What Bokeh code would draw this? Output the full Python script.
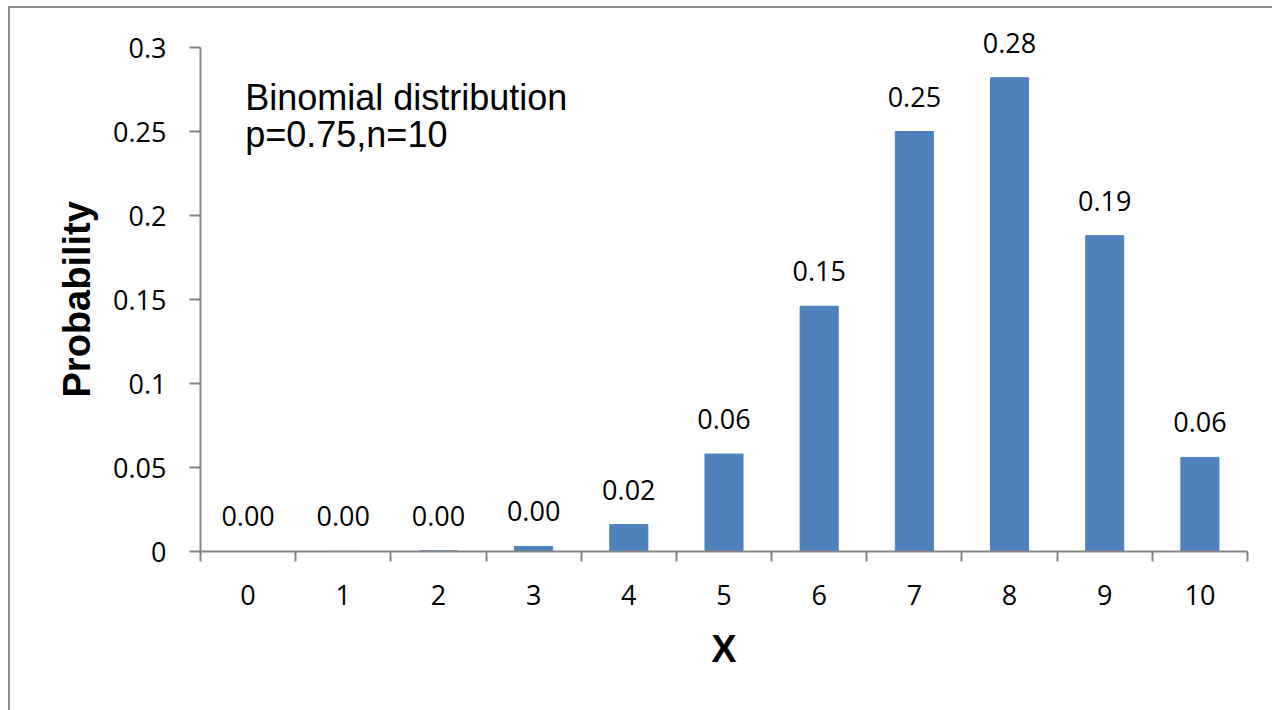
from bokeh.plotting import figure
from bokeh.models import Range1d, FixedTicker, LabelSet, Label, Title, ColumnDataSource
from bokeh.core.properties import value
from bokeh.embed import file_html
from bokeh.resources import INLINE

# ---- data ----
x_values = [0, 1, 2, 3, 4, 5, 6, 7, 8, 9, 10]
x_labels = ["0", "1", "2", "3", "4", "5", "6", "7", "8", "9", "10"]
probabilities = [0.000001, 0.00003, 0.0004, 0.003, 0.016, 0.058, 0.146, 0.250, 0.282, 0.188, 0.056]
y_ticks = [0, 0.05, 0.1, 0.15, 0.2, 0.25, 0.3]
y_tick_labels = ["0", "0.05", "0.1", "0.15", "0.2", "0.25", "0.3"]
note_lines = ["Binomial distribution", "p=0.75,n=10"]
x_title = "X"
y_title = "Probability"

BAR = "#4F81BD"
AXIS = "#868686"
TICK_FONT = "Open Sans"
TITLE_FONT = "Liberation Sans"

src = ColumnDataSource(dict(
    x=x_values,
    top=probabilities,
    label=[f"{v:.2f}" for v in probabilities],
))

# layout: value axis (0..0.3) spans 504 px; frame extends 37 px above it
AXIS_PX = 504
EXTRA_TOP_PX = 37
FRAME_H = AXIS_PX + EXTRA_TOP_PX
y_top = y_ticks[-1] * FRAME_H / AXIS_PX

p = figure(
    frame_width=1047, frame_height=FRAME_H,
    x_range=Range1d(x_values[0] - 0.5, x_values[-1] + 0.5),
    y_range=Range1d(y_ticks[0], y_top),
    output_backend="svg", toolbar_location=None,
    min_border_left=190, min_border_right=25, min_border_top=2, min_border_bottom=159,
)
p.styles = {
    "margin-left": "8px", "margin-top": "6px",
    "border-left": "2px solid #8c8c8c", "border-top": "2px solid #8c8c8c",
}
p.outline_line_color = None
p.xgrid.visible = False
p.ygrid.visible = False
p.background_fill_color = "white"
p.border_fill_color = "white"

# bars
p.vbar(x="x", top="top", width=0.4, source=src, fill_color=BAR, line_color=BAR)

# x axis: labels at centres (major), tick marks at category boundaries (minor)
boundaries = [v - 0.5 for v in x_values] + [x_values[-1] + 0.5]
xa = p.below[0]
xa.ticker = FixedTicker(ticks=x_values, minor_ticks=boundaries)
xa.major_label_overrides = {v: l for v, l in zip(x_values, x_labels)}
xa.axis_line_color = AXIS
xa.axis_line_width = 2
xa.major_tick_line_color = None
xa.major_tick_out = 10
xa.major_tick_in = 0
xa.minor_tick_line_color = AXIS
xa.minor_tick_line_width = 2
xa.minor_tick_out = 10
xa.minor_tick_in = 0
xa.major_label_standoff = 23
xa.major_label_text_font = TICK_FONT
xa.major_label_text_font_size = "27px"
xa.major_label_text_color = "black"
xa.axis_label = x_title
xa.axis_label_text_font = TITLE_FONT
xa.axis_label_text_font_size = "38px"
xa.axis_label_text_font_style = "bold"
xa.axis_label_text_color = "black"
xa.axis_label_standoff = 20

# y axis (line and ticks only up to 0.3)
ya = p.left[0]
ya.ticker = FixedTicker(ticks=y_ticks)
ya.bounds = (y_ticks[0], y_ticks[-1])
ya.major_label_overrides = {v: l for v, l in zip(y_ticks, y_tick_labels)}
ya.axis_line_color = AXIS
ya.axis_line_width = 2
ya.major_tick_line_color = AXIS
ya.major_tick_line_width = 2
ya.major_tick_out = 11
ya.major_tick_in = 0
ya.minor_tick_line_color = None
ya.major_label_standoff = 23
ya.major_label_text_font = TICK_FONT
ya.major_label_text_font_size = "27px"
ya.major_label_text_color = "black"

# y title, centred on the 0..0.3 part of the axis
p.add_layout(Title(
    text=y_title, align="left", offset=154, standoff=25,
    text_font=TITLE_FONT, text_font_size="38px", text_font_style="bold",
    text_color="black",
), "left")

# data labels
labels = LabelSet(
    x="x", y="top", text="label", source=src,
    text_align="center", text_baseline="alphabetic", y_offset=25,
    text_font=value(TICK_FONT), text_font_size=value("27px"), text_color=value("black"),
)
p.add_layout(labels)

# note text
for i, line in enumerate(note_lines):
    p.add_layout(Label(
        x=-0.03, y=0.270 - i * 0.022, text=line,
        text_align="left", text_baseline="alphabetic",
        text_font=TITLE_FONT, text_font_size="36px", text_color="black",
    ))

open("out.html", "w").write(file_html(p, INLINE))
